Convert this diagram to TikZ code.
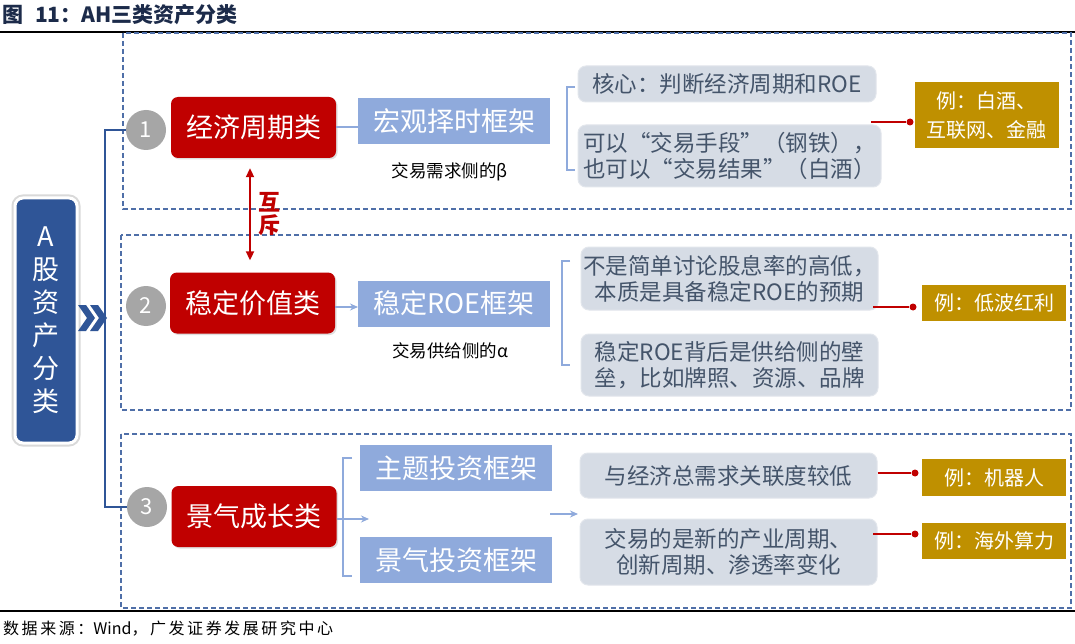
\documentclass[tikz,border=0pt]{standalone}
\usepackage{fontspec}
\setmainfont{Noto Sans CJK SC}
\usetikzlibrary{arrows.meta,shadows,calc}
\definecolor{redc}{HTML}{C00000}
\definecolor{fwc}{HTML}{8FAADC}
\definecolor{greyc}{HTML}{D6DCE5}
\definecolor{greyedge}{HTML}{E2E6EC}
\definecolor{greytext}{HTML}{44546A}
\definecolor{goldc}{HTML}{BF9000}
\definecolor{numgrey}{HTML}{A6A6A6}
\definecolor{dashc}{HTML}{4F6FA8}
\definecolor{mainblue}{HTML}{2F5597}
\definecolor{titlec}{HTML}{1C2B4A}
\newcommand\myfs[2]{\fontsize{#1}{#2}\selectfont}
\tikzset{
  redbox/.style={rectangle, rounded corners=7pt, fill=redc, text=white, font=\myfs{27}{32},
    minimum width=165pt, minimum height=61pt, inner sep=0pt,
    drop shadow={opacity=0.25, shadow xshift=1.5pt, shadow yshift=-1.5pt}},
  fwbox/.style={rectangle, fill=fwc, text=white, font=\myfs{27}{32},
    minimum width=192pt, minimum height=46pt, inner sep=0pt},
  greybox/.style={rectangle, rounded corners=8pt, fill=greyc, draw=greyedge, line width=1pt,
    text=greytext, font=\myfs{22.5}{26}, align=center, inner sep=0pt},
  goldbox/.style={rectangle, fill=goldc, text=white, font=\myfs{20}{29}, align=center,
    inner sep=0pt, minimum width=144pt},
  numc/.style={circle, fill=numgrey, text=white, font=\myfs{22}{24}, minimum size=40pt, inner sep=0pt},
  dashbox/.style={draw=dashc, dash pattern=on 5pt off 3pt, line width=1.3pt},
  mainline/.style={draw=mainblue, line width=2.5pt},
  lbline/.style={draw=fwc, line width=2pt},
  lbarrow/.style={lbline, -{Stealth[length=8pt,width=7pt]}},
  redline/.style={draw=redc, line width=2pt},
  reddot/.style={circle, fill=redc, minimum size=7pt, inner sep=0pt},
  mutual/.style={draw=redc, line width=2pt, {Triangle[length=9pt,width=8pt]}-{Triangle[length=9pt,width=8pt]}},
  chev/.style={fill=mainblue, draw=none},
}
\begin{document}
\begin{tikzpicture}[x=1pt,y=-1pt]
\useasboundingbox (0,0) rectangle (1075,644);
\fill[white] (0,0) rectangle (1075,644);

% title and rules
\node[anchor=west, font=\bfseries\myfs{21}{24}, text=titlec, inner sep=0pt] (title) at (2,15) {图\hspace{12pt}11：AH三类资产分类};
\draw[black, line width=2pt] (0,32) -- (1075,32);
\draw[black, line width=2.5pt] (0,611) -- (1075,611);
\node[anchor=west, font=\myfs{16}{18}\addfontfeature{LetterSpace=16}, inner sep=0pt] (src) at (3,629) {数据来源：{\addfontfeature{LetterSpace=0}Wind}，广发证券发展研究中心};

% dashed group boxes
\draw[dashbox] (123,33) rectangle (1071,209);
\draw[dashbox] (121,235) rectangle (1071,410);
\draw[dashbox] (121,434) rectangle (1071,608);

% left box
\node[rectangle, rounded corners=8pt, fill=mainblue, draw=white, line width=3pt,
  preaction={draw=black!15, line width=7pt},
  minimum width=62pt, minimum height=245pt, inner sep=0pt, text=white,
  font=\myfs{27}{33}, align=center] (lb) at (46,320.5) {A\\股\\资\\产\\分\\类};

% chevrons
\fill[chev] (78,305) -- (86,305) -- (95,318) -- (86,331) -- (78,331) -- (87,318) -- cycle;
\fill[chev] (90,305) -- (98,305) -- (107,318) -- (98,331) -- (90,331) -- (99,318) -- cycle;

% number circles
\node[numc] (c1) at (146,130) {1};
\node[numc] (c2) at (146,306) {2};
\node[numc] (c3) at (147,507) {3};

% spine
\coordinate (spine) at (105,0);
\draw[mainline] (c1.west) -- (c1.west -| spine) -- (c3.west -| spine) -- (c3.west);

% red category boxes
\node[redbox] (r1) at (253.5,127.5) {经济周期类};
\node[redbox] (r2) at (252.5,303) {稳定价值类};
\node[redbox] (r3) at (254,516.5) {景气成长类};

% mutual exclusion
\draw[mutual] ([xshift=-3.5pt,yshift=-10pt]r1.south) -- ([xshift=-2.5pt,yshift=12pt]r2.north);
\node[font=\bfseries\myfs{22}{23}, text=redc, align=center, inner sep=0pt] (hc) at (269,214) {互\\斥};

% framework boxes
\node[fwbox] (f1) at (454,121) {宏观择时框架};
\node[fwbox] (f2) at (454,303.5) {稳定ROE框架};
\node[fwbox] (f3a) at (456,468) {主题投资框架};
\node[fwbox] (f3b) at (456,560) {景气投资框架};

\draw[lbline] (r1.east) -- (r1.east -| f1.west);
\coordinate (a2) at (358,307);
\draw[lbarrow] (r2.east |- a2) -- (a2);
\coordinate (a3) at (369,519);
\draw[lbarrow] (r3.east |- a3) -- (a3);

% subtitles
\node[font=\myfs{17.5}{20}, inner sep=0pt] (s1) at (450,172) {交易需求侧的β};
\node[font=\myfs{17.5}{20}, inner sep=0pt] (s2) at (450,351) {交易供给侧的α};

% brackets
\draw[lbline] (575,87) -- (567,87) -- (567,170) -- (575,170);
\draw[lbline] (570,261) -- (562,261) -- (562,365) -- (570,365);
\draw[lbline] (352,458) -- (343,458) -- (343,576) -- (352,576);

% small arrow row 3
\coordinate (b3s) at (550,514);
\coordinate (b3e) at (578,514);
\draw[lbarrow] (b3s) -- (b3e);

% grey boxes
\node[greybox, minimum width=298pt, minimum height=36pt] (g1a) at (727,84) {核心：判断经济周期和ROE};
\node[greybox, minimum width=303pt, minimum height=62pt] (g1b) at (729.5,156) {可以“交易手段”（钢铁），\\也可以“交易结果”（白酒）};
\node[greybox, minimum width=297pt, minimum height=63pt] (g2a) at (729.5,278.5) {不是简单讨论股息率的高低，\\本质是具备稳定ROE的预期};
\node[greybox, minimum width=297pt, minimum height=62pt] (g2b) at (729.5,365) {稳定ROE背后是供给侧的壁\\垒，比如牌照、资源、品牌};
\node[greybox, minimum width=297pt, minimum height=45pt] (g3a) at (728.5,475.5) {与经济总需求关联度较低};
\node[greybox, minimum width=297pt, minimum height=66pt] (g3b) at (728.5,552) {交易的是新的产业周期、\\创新周期、渗透率变化};

% gold boxes
\node[goldbox, minimum height=66pt] (k1) at (986.5,115) {例：白酒、\\互联网、金融};
\node[goldbox, minimum height=36pt] (k2) at (994,303) {例：低波红利};
\node[goldbox, minimum height=37pt] (k3) at (994,477.5) {例：机器人};
\node[goldbox, minimum height=36pt] (k4) at (994,541) {例：海外算力};

% red connectors
\coordinate (e1) at (871,122); \node[reddot] (d1) at (910,122) {};
\draw[redline] (e1) -- (d1);
\coordinate (e2) at (873,307); \node[reddot] (d2) at (913,307) {};
\draw[redline] (e2) -- (d2);
\node[reddot] (d3) at (915,473) {};
\draw[redline] (g3a.east |- d3) -- (d3);
\coordinate (e4) at (873,534); \node[reddot] (d4) at (915,534) {};
\draw[redline] (e4) -- (d4);
\end{tikzpicture}
\end{document}
